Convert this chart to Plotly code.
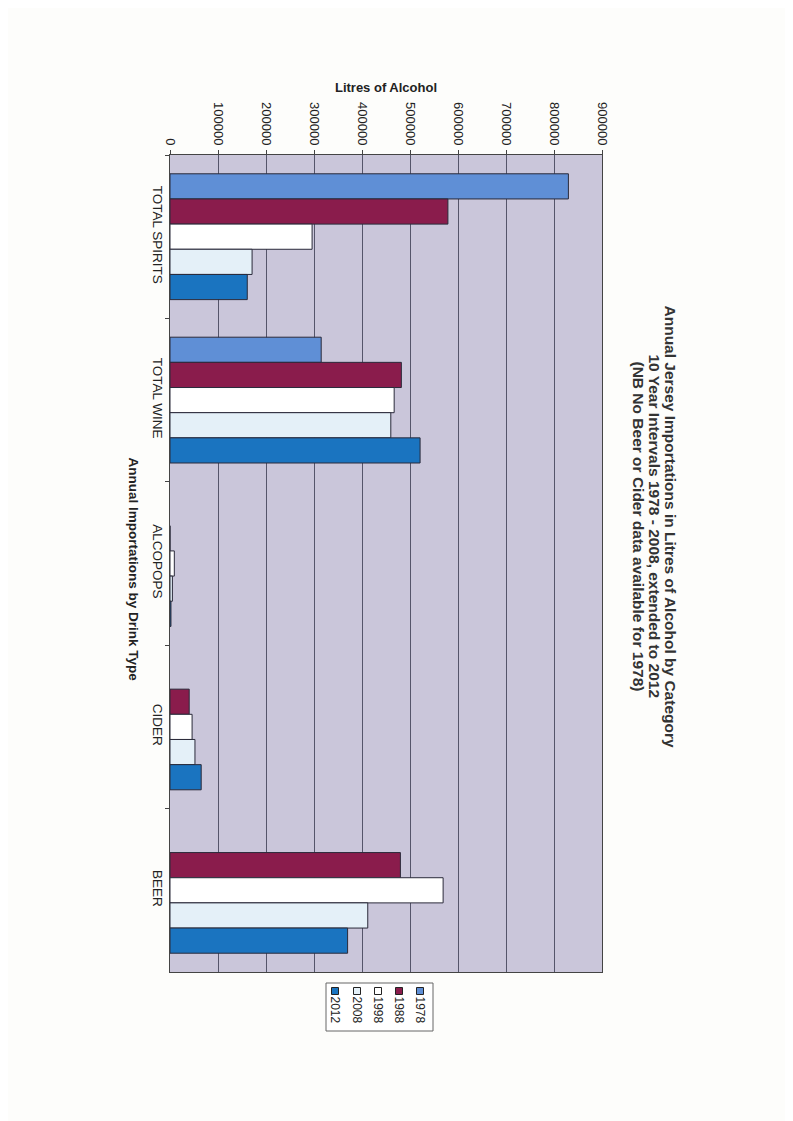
import plotly.graph_objects as go

categories = ["TOTAL SPIRITS", "TOTAL WINE", "ALCOPOPS", "CIDER", "BEER"]
years = ["1978", "1988", "1998", "2008", "2012"]
litres_1978 = [830000, 315000, None, None, None]
litres_1988 = [579000, 482000, 0, 40000, 480000]
litres_1998 = [296000, 467000, 9000, 46000, 569000]
litres_2008 = [171000, 460000, 5000, 52000, 412000]
litres_2012 = [161000, 521000, 2000, 65000, 370000]
x_ticks = [0, 100000, 200000, 300000, 400000, 500000, 600000, 700000, 800000, 900000]
title_lines = [
    "Annual Jersey Importations in Litres of Alcohol by Category",
    "10 Year Intervals 1978 - 2008, extended to 2012",
    "(NB No Beer or Cider data available for 1978)",
]

series = [litres_1978, litres_1988, litres_1998, litres_2008, litres_2012]
colours = ["#5f8fd6", "#8a1c4c", "#ffffff", "#e4f0f8", "#1a74c0"]

W, H = 793, 1121
L, R, T, B = 170, 602, 155, 972
OFF = 8  # page body margin


def px(x):
    return (x - L) / (R - L)


def py(y):
    return (B - y) / (B - T)


fig = go.Figure()
for yr, vals, col in zip(years, series, colours):
    fig.add_trace(go.Bar(
        y=categories, x=vals, name=yr, orientation="h",
        marker=dict(color=col, line=dict(color="#2a2a3a", width=1)),
        showlegend=False,
    ))

font = "Liberation Sans, Arial, sans-serif"
fig.update_layout(
    width=W, height=H,
    margin=dict(l=L - OFF, r=W - R + OFF, t=T - OFF, b=H - B + OFF),
    paper_bgcolor="#fdfdfb",
    plot_bgcolor="#cac6da",
    barmode="group", bargap=0.23, bargroupgap=0,
    font=dict(family=font, color="#222", size=12),
)
fig.update_xaxes(
    side="top", range=[0, 900000], tickvals=x_ticks, tickformat="d",
    tickangle=90, tickfont=dict(size=13), automargin=False,
    showgrid=True, gridcolor="#55556a", gridwidth=1,
    showline=True, linecolor="#444", mirror=True,
    ticks="outside", ticklen=4, tickcolor="#444", zeroline=False,
    title=dict(text="<b>Litres of Alcohol</b>", font=dict(size=13), standoff=6),
)
fig.update_yaxes(
    autorange="reversed", tickangle=90, tickfont=dict(size=13.5), automargin=False,
    showline=True, linecolor="#444", mirror=True,
    ticks="outside", ticklen=4, tickcolor="#444", tickson="boundaries",
    showgrid=False,
)

# rotated chart title, one annotation per line
for line, tx in zip(title_lines, [681, 665, 649]):
    fig.add_annotation(
        xref="paper", yref="paper", x=px(tx), y=py(526), showarrow=False,
        textangle=90, text="<b>" + line + "</b>",
        font=dict(size=15.5, color="#333"),
    )
# category axis title
fig.add_annotation(
    xref="paper", yref="paper", x=px(124), y=py(569), showarrow=False,
    textangle=90, text="<b>Annual Importations by Drink Type</b>",
    font=dict(size=13.5, color="#222"),
)

# legend drawn by hand so its labels can be rotated like the rest
fig.add_shape(type="rect", xref="paper", yref="paper",
              x0=px(326), x1=px(433), y0=py(983), y1=py(1031),
              line=dict(color="#666", width=1), fillcolor="#ffffff")
leg_x = [420, 399, 378, 357, 335]
for yr, col, lx in zip(years, colours, leg_x):
    fig.add_shape(type="rect", xref="paper", yref="paper",
                  x0=px(lx - 3.5), x1=px(lx + 3.5), y0=py(994.5), y1=py(987.5),
                  line=dict(color="#222", width=1), fillcolor=col)
    fig.add_annotation(xref="paper", yref="paper", x=px(lx), y=py(1025),
                       showarrow=False, textangle=90, text=yr,
                       font=dict(size=12, color="#222"))

fig.write_html("out.html")
